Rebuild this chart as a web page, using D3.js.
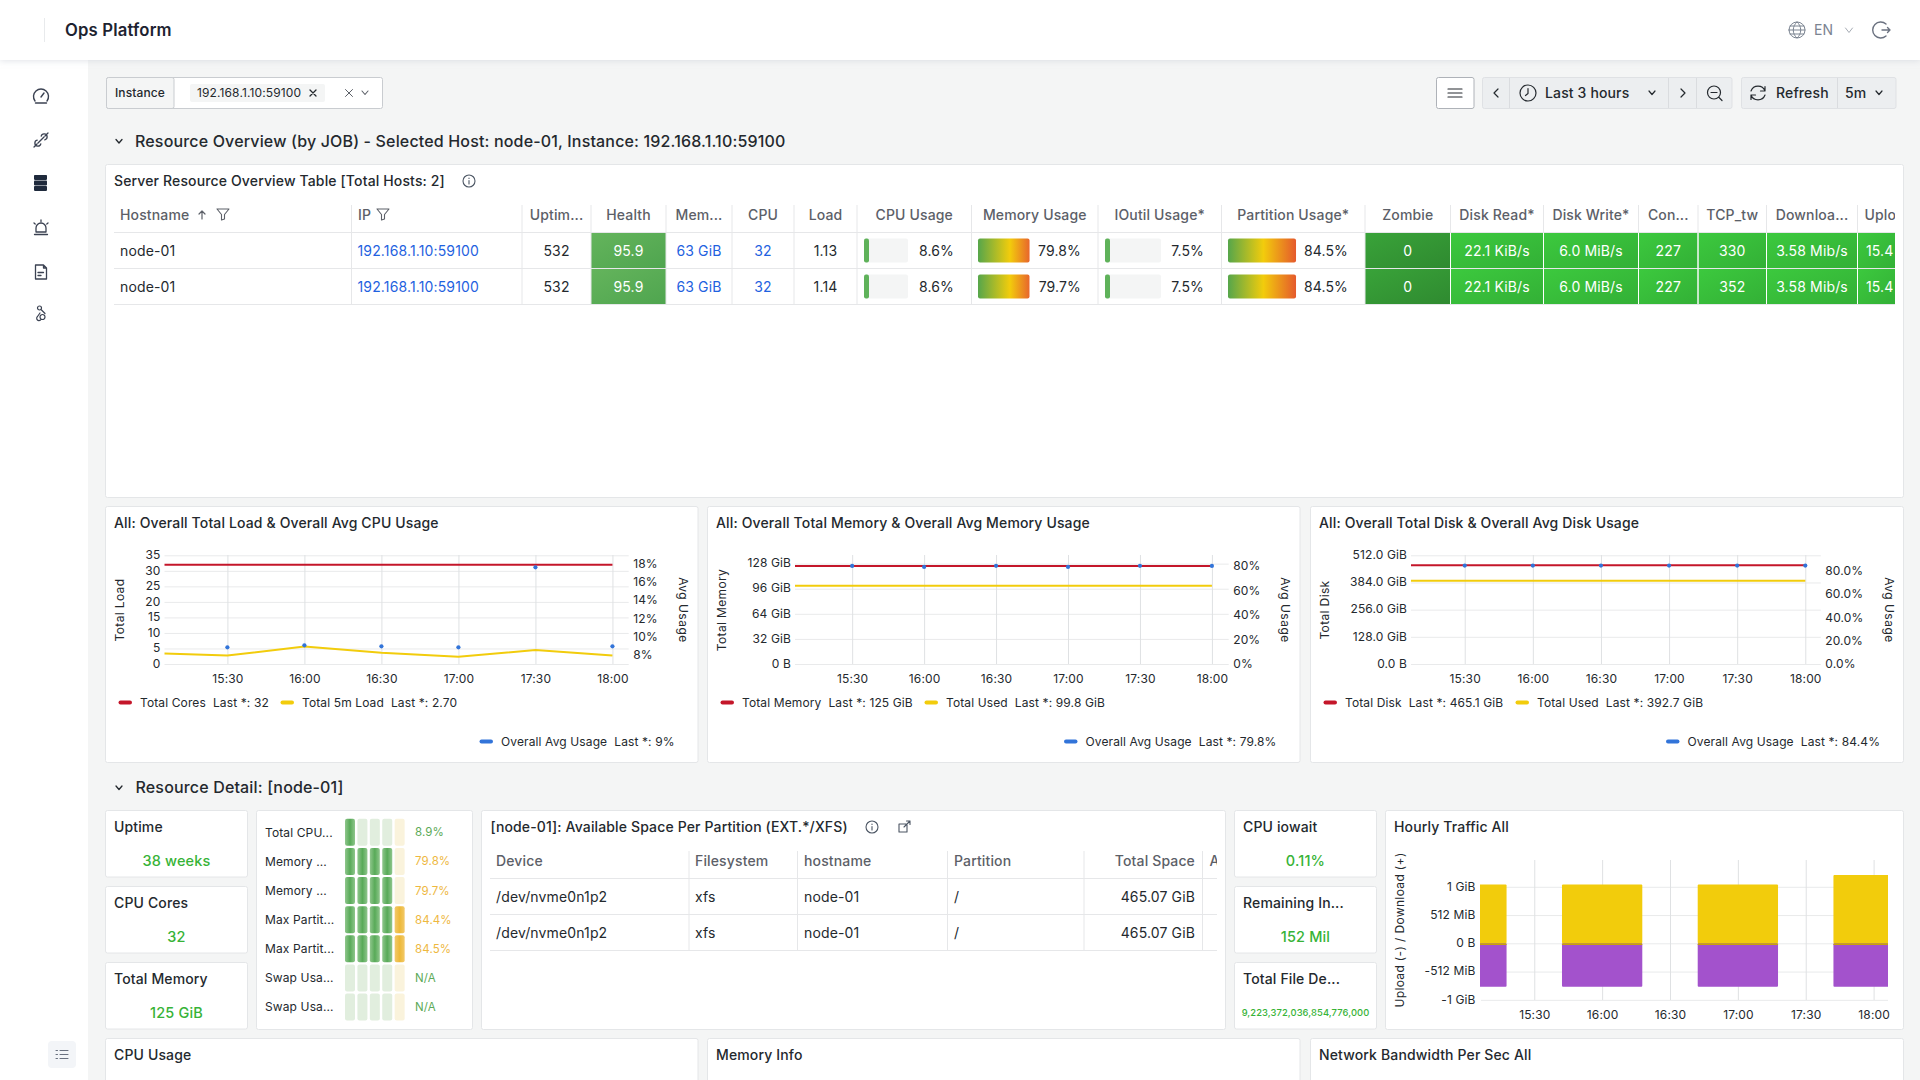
<!DOCTYPE html>
<html>
<head>
<meta charset="utf-8">
<title>Ops Platform</title>
<script src="https://cdn.jsdelivr.net/npm/d3@7"></script>
<style>
html, body { margin: 0; padding: 0; background: #f4f5f5; overflow: hidden; }
svg { display: block; font-family: Inter, "Noto Sans", sans-serif; }
text { white-space: pre; letter-spacing: 0.01em; }
.axis .domain { display: none; }
.axis text { font-family: Inter, "Noto Sans", sans-serif; font-size: 12px; fill: #24292e; }
.grid-y text { transform: translateY(-0.6px); }
.grid-y line { stroke: #e9eaeb; }
.grid-x line { stroke: #dfe1e3; }
.no-tick line { display: none; }
</style>
</head>
<body>
<div id="chart"></div>
<script>
// overview table
var overviewHeaders = ['Hostname', 'IP', 'Uptim...', 'Health', 'Mem...', 'CPU', 'Load', 'CPU Usage', 'Memory Usage', 'IOutil Usage*', 'Partition Usage*', 'Zombie', 'Disk Read*', 'Disk Write*', 'Con...', 'TCP_tw', 'Downloa...', 'Uplo'];
var hostnames = ['node-01', 'node-01'];
var instances = ['192.168.1.10:59100', '192.168.1.10:59100'];
var uptimes = ['532', '532'];
var healthScores = ['95.9', '95.9'];
var memoryTotals = ['63 GiB', '63 GiB'];
var cpuCounts = ['32', '32'];
var loads = ['1.13', '1.14'];
var cpuUsage = [8.6, 8.6];
var memoryUsage = [79.8, 79.7];
var ioUsage = [7.5, 7.5];
var partitionUsage = [84.5, 84.5];
var zombies = ['0', '0'];
var diskReads = ['22.1 KiB/s', '22.1 KiB/s'];
var diskWrites = ['6.0 MiB/s', '6.0 MiB/s'];
var connections = ['227', '227'];
var tcpTw = ['330', '352'];
var downloads = ['3.58 Mib/s', '3.58 Mib/s'];
var uploads = ['15.4', '15.4'];

// time series
var hourTicks = ['15:30', '16:00', '16:30', '17:00', '17:30', '18:00'];
var loadTimes = ['15:05:30', '15:30', '16:00', '16:30', '17:00', '17:30', '18:00'];
var totalCores = [32, 32, 32, 32, 32, 32, 32];
var total5mLoad = [3.4, 2.7, 5.6, 3.6, 2.35, 4.5, 2.7];
var avgCpuUsage = [8.84, 9.05, 8.95, 8.84, 17.56, 8.95];
var memTimes = ['15:06:10', '15:30', '16:00', '16:30', '17:00', '17:30', '18:00'];
var totalMemory = [125, 125, 125, 125, 125, 125, 125];
var usedMemory = [99.8, 99.8, 99.8, 99.8, 99.8, 99.8, 99.8];
var avgMemUsage = [79.8, 79.0, 79.9, 79.0, 79.9, 79.8];
var diskTimes = ['15:06:20', '15:30', '16:00', '16:30', '17:00', '17:30', '18:00'];
var totalDisk = [465.1, 465.1, 465.1, 465.1, 465.1, 465.1, 465.1];
var usedDisk = [392.7, 392.7, 392.7, 392.7, 392.7, 392.7, 392.7];
var avgDiskUsage = [84.4, 84.4, 84.4, 84.4, 84.4, 84.4];

// resource detail
var leftStatTitles = ['Uptime', 'CPU Cores', 'Total Memory'];
var leftStatValues = ['38 weeks', '32', '125 GiB'];
var rightStatTitles = ['CPU iowait', 'Remaining In...', 'Total File De...'];
var rightStatValues = ['0.11%', '152 Mil', '9,223,372,036,854,776,000'];
var barGaugeLabels = ['Total CPU...', 'Memory ...', 'Memory ...', 'Max Partit...', 'Max Partit...', 'Swap Usa...', 'Swap Usa...'];
var barGaugeValues = [8.9, 79.8, 79.7, 84.4, 84.5, null, null];
var partitionHeaders = ['Device', 'Filesystem', 'hostname', 'Partition', 'Total Space', 'A'];
var partitionDevices = ['/dev/nvme0n1p2', '/dev/nvme0n1p2'];
var partitionFs = ['xfs', 'xfs'];
var partitionHosts = ['node-01', 'node-01'];
var partitionMounts = ['/', '/'];
var partitionTotals = ['465.07 GiB', '465.07 GiB'];
var trafficTimes = ['15:00', '16:00', '17:00', '18:00'];
var trafficDownload = [1.04, 1.04, 1.04, 1.21];
var trafficUpload = [-0.77, -0.77, -0.77, -0.77];
var trafficOverlap = [-0.03, -0.03, -0.03, -0.03];
var trafficTicks = [-1, -0.5, 0, 0.5, 1];
var trafficTickLabels = ['-1 GiB', '-512 MiB', '0 B', '512 MiB', '1 GiB'];
var bottomPanelTitles = ['CPU Usage', 'Memory Info', 'Network Bandwidth Per Sec All'];

var RED = '#c4162a', YELLOW = '#f2cc0c', BLUE = '#3274d9', PURPLE = '#a352cc';
var INK = '#24292e', ICON = '#3b4252', MUTED = '#5c6068';
var LINE = '#e6e7e9', PANEL_LINE = '#e4e6e8';

var svg = d3.select('#chart').append('svg').attr('width', 1920).attr('height', 1080);
var defs = svg.append('defs');

function t(s) {
    var p = s.split(':');
    return new Date(2024, 0, 15, +p[0], +p[1], +(p[2] || 0));
}

function label(parent, x, y, str, o) {
    o = o || {};
    return parent.append('text')
        .attr('x', x).attr('y', y).attr('dy', '0.35em')
        .attr('text-anchor', o.anchor || 'start')
        .attr('font-size', o.size || 14)
        .attr('font-weight', o.weight || 400)
        .attr('fill', o.fill || INK)
        .text(str);
}

function panel(x0, y0, x1, y1) {
    svg.append('rect')
        .attr('x', x0).attr('y', y0)
        .attr('width', x1 - x0).attr('height', y1 - y0)
        .attr('rx', 2)
        .attr('fill', '#fff').attr('stroke', PANEL_LINE);
}

function icon(x, y, d, o) {
    o = o || {};
    return svg.append('path')
        .attr('transform', 'translate(' + x + ',' + y + ')')
        .attr('d', d)
        .attr('fill', o.fill || 'none')
        .attr('stroke', o.fill ? 'none' : (o.stroke || ICON))
        .attr('stroke-width', o.width || 1.3)
        .attr('stroke-linecap', 'round')
        .attr('stroke-linejoin', 'round');
}

function gradient(id, stops, x2, y2) {
    var g = defs.append('linearGradient').attr('id', id)
        .attr('x1', 0).attr('y1', 0).attr('x2', x2).attr('y2', y2);
    stops.forEach(function(s) {
        g.append('stop').attr('offset', s[0]).attr('stop-color', s[1]);
    });
}

gradient('cell-health', [[0, '#64b45c'], [1, '#4fa54f']], 1, 1);
gradient('cell-zombie', [[0, '#39a339'], [1, '#2f8a30']], 1, 1);
gradient('cell-ok', [[0, '#3cc93e'], [1, '#33b036']], 1, 1);
gradient('gauge-green', [[0, '#5fb25a'], [1, '#5fb25a']], 1, 0);
gradient('gauge-mem', [[0, '#56a64b'], [0.62, '#f2cc0c'], [1, '#e8662c']], 1, 0);
gradient('gauge-part', [[0, '#56a64b'], [0.52, '#f2cc0c'], [1, '#e55a2c']], 1, 0);
gradient('lit-green', [[0, '#8fc68c'], [0.5, '#58aa58'], [1, '#8fc68c']], 1, 0);
gradient('lit-amber', [[0, '#f2c96a'], [0.5, '#edb938'], [1, '#f2c96a']], 1, 0);

// page frame
var filterShadow = defs.append('filter').attr('id', 'head-shadow').attr('height', '140%');
filterShadow.append('feDropShadow').attr('dx', 0).attr('dy', 1).attr('stdDeviation', 3).attr('flood-color', '#c8ced6').attr('flood-opacity', 0.55);
svg.append('rect').attr('width', 1920).attr('height', 1080).attr('fill', '#f4f5f5');
svg.append('rect').attr('x', 0).attr('y', 60).attr('width', 88).attr('height', 1020).attr('fill', '#fff');
svg.append('rect').attr('width', 1920).attr('height', 60).attr('fill', '#fff').attr('filter', 'url(#head-shadow)');
svg.append('line').attr('x1', 44.5).attr('x2', 44.5).attr('y1', 18).attr('y2', 42).attr('stroke', '#e8eaec');
label(svg, 65, 30, 'Ops Platform', { size: 16.7, weight: 600, fill: '#1d2330' });

// header right
var GREY = '#7b8491';
icon(1797, 30, 'M-8,0a8,8 0 1,0 16,0a8,8 0 1,0 -16,0M-8,0H8M-7,-4H7M-7,4H7M0,-8C-5,-4 -5,4 0,8C5,4 5,-4 0,-8', { stroke: GREY, width: 1 });
label(svg, 1814, 30, 'EN', { size: 14, fill: GREY });
icon(1849, 30, 'M-3.5,-2L0,2.5L3.5,-2', { stroke: '#a5abb4', width: 1 });
icon(1882, 30, 'M4,-6A8,8 0 1,0 4,6M0,0H8M5.5,-2.5L8,0L5.5,2.5', { stroke: '#6b7280', width: 1.4 });

// sidebar
icon(41, 96, 'M-6,5A7.5,7.5 0 1,1 6,5M-5.5,7H5.5M0,1L3,-3', { width: 1.4 });
icon(41, 140, 'M-7,7L-4,4M4,-4L7,-7M-3.8,0.2A3,3 0 1,0 -0.2,3.8M0.2,-3.8A3,3 0 1,1 3.8,-0.2M-3,3L3,-3', { width: 1.3 });
[-5.5, 0, 5.5].forEach(function(dy) {
    svg.append('rect').attr('x', 34).attr('y', 183 + dy - 2.4).attr('width', 13).attr('height', 4.8).attr('rx', 0.8).attr('fill', '#1f2a3c');
});
icon(41, 228, 'M-5,4V0A5,5 0 0,1 5,0V4M-6.5,6.5H6.5M-5,4H5M0,-8V-6.5M-7,-5L-5.8,-4M7,-5L5.8,-4', { width: 1.3 });
icon(41, 272, 'M-5.5,-7H2.5L5.5,-4V7H-5.5ZM2.5,-7V-4H5.5M-3,0.5H2.5M-3,3.5H0', { width: 1.3 });
icon(41, 315, 'M-3.5,-7a2,2 0 1,0 4,0a2,2 0 1,0 -4,0M0,-5.5L4,-1.5M-1,2a2.5,2.5 0 1,0 5,0a2.5,2.5 0 1,0 -5,0M-1,-2L-3.5,1.5a2.2,2.2 0 0,0 3,3.5', { width: 1.2 });
svg.append('rect').attr('x', 48).attr('y', 1041).attr('width', 28).attr('height', 27).attr('rx', 4).attr('fill', '#f3f5f8');
icon(62, 1054.5, 'M-2,-4H6M-2,0H6M-2,4H6M-6,-4H-4.5M-6,0H-4.5M-6,4H-4.5', { stroke: '#6b7280', width: 1.1 });

// toolbar
svg.append('rect').attr('x', 106.5).attr('y', 77.5).attr('width', 276).attr('height', 31).attr('rx', 2).attr('fill', '#fff').attr('stroke', '#c9ccd0');
svg.append('rect').attr('x', 106.5).attr('y', 77.5).attr('width', 67.5).attr('height', 31).attr('rx', 2).attr('fill', '#f4f5f5').attr('stroke', '#c9ccd0');
label(svg, 140, 93, 'Instance', { size: 12, anchor: 'middle', weight: 500 });
svg.append('rect').attr('x', 190).attr('y', 84).attr('width', 135).attr('height', 18).attr('rx', 2).attr('fill', '#f4f5f5');
label(svg, 197, 93, '192.168.1.10:59100', { size: 12 });
icon(313, 93, 'M-3,-3L3,3M3,-3L-3,3', { stroke: INK, width: 1.3 });
icon(349, 93, 'M-3.5,-3.5L3.5,3.5M3.5,-3.5L-3.5,3.5', { stroke: '#5c6068', width: 1 });
icon(365, 92.5, 'M-3,-1.5L0,2L3,-1.5', { stroke: '#5c6068', width: 1.1 });

svg.append('rect').attr('x', 1436.5).attr('y', 77.5).attr('width', 37.5).attr('height', 31).attr('rx', 2).attr('fill', '#fff').attr('stroke', '#aeb2b8');
icon(1455, 93, 'M-7,-4H7M-7,0H7M-7,4H7', { stroke: INK, width: 1.2 });
svg.append('rect').attr('x', 1482.5).attr('y', 77.5).attr('width', 249.5).attr('height', 31).attr('rx', 2).attr('fill', '#eceef0').attr('stroke', '#dfe1e4');
svg.append('rect').attr('x', 1741.5).attr('y', 77.5).attr('width', 154.5).attr('height', 31).attr('rx', 2).attr('fill', '#eceef0').attr('stroke', '#dfe1e4');
[1509.5, 1668.5, 1696.5, 1837.5].forEach(function(x) {
    svg.append('line').attr('x1', x).attr('x2', x).attr('y1', 78).attr('y2', 108).attr('stroke', '#dadcdf');
});
icon(1496, 93, 'M2,-4L-2,0L2,4', { stroke: INK, width: 1.2 });
icon(1528, 93, 'M-8,0a8,8 0 1,0 16,0a8,8 0 1,0 -16,0M0,-4.5V0.5L-2.5,2.5', { stroke: INK, width: 1.2 });
label(svg, 1545, 93, 'Last 3 hours', { size: 14, weight: 500 });
icon(1652, 92.5, 'M-3,-1.5L0,2L3,-1.5', { stroke: INK, width: 1.2 });
icon(1683, 93, 'M-2,-4L2,0L-2,4', { stroke: INK, width: 1.2 });
icon(1714, 92.5, 'M-6.5,0a6.5,6.5 0 1,0 13,0a6.5,6.5 0 1,0 -13,0M-3,0H3M5,5L8,8', { stroke: INK, width: 1.2 });
icon(1758, 93, 'M-7,-2A7.5,7.5 0 0,1 7,-2M7,-6.5V-2H2.5M7,2A7.5,7.5 0 0,1 -7,2M-7,6.5V2H-2.5', { stroke: INK, width: 1.2 });
label(svg, 1776, 93, 'Refresh', { size: 14, weight: 500 });
label(svg, 1845, 93, '5m', { size: 14, weight: 500 });
icon(1879, 92.5, 'M-3,-1.5L0,2L3,-1.5', { stroke: INK, width: 1.2 });

// section titles
icon(119, 141, 'M-3,-1.5L0,2L3,-1.5', { stroke: INK, width: 1.3 });
label(svg, 135, 141, 'Resource Overview (by JOB) - Selected Host: node-01, Instance: 192.168.1.10:59100', { size: 16, weight: 500 });
icon(119, 787.5, 'M-3,-1.5L0,2L3,-1.5', { stroke: INK, width: 1.3 });
label(svg, 135.5, 787.5, 'Resource Detail: [node-01]', { size: 16, weight: 500 });

var INFO = 'M-6,0a6,6 0 1,0 12,0a6,6 0 1,0 -12,0M0,-0.5V3M0,-3V-2.6';
var FUNNEL = 'M-6,-5H6L1.5,0.5V5L-1.5,6V0.5Z';

// overview table
panel(105.5, 164.5, 1903.5, 497.5);
label(svg, 114, 181, 'Server Resource Overview Table [Total Hosts: 2]', { weight: 500 });
icon(469, 181, INFO, { stroke: '#4b5563', width: 1.1 });

var colEdges = [114, 351.5, 522, 591, 666, 732, 794, 857, 971.5, 1098, 1221.5, 1365, 1450.5, 1543.5, 1638.5, 1698, 1766.5, 1857.5, 1895];
var colLeft = d3.scaleOrdinal(overviewHeaders, colEdges.slice(0, -1));
var colRight = d3.scaleOrdinal(overviewHeaders, colEdges.slice(1));
var rowY = d3.scalePoint().domain([0, 1]).range([250.5, 286.5]);
var tableLayer = svg.append('g');
defs.append('clipPath').attr('id', 'table-clip').append('rect').attr('x', 114).attr('y', 200).attr('width', 1781).attr('height', 110);
tableLayer.attr('clip-path', 'url(#table-clip)');

function colMid(name) { return (colLeft(name) + colRight(name)) / 2; }

// filled cells under the grid lines
[['Health', healthScores, 'cell-health'], ['Zombie', zombies, 'cell-zombie'], ['Disk Read*', diskReads, 'cell-ok'], ['Disk Write*', diskWrites, 'cell-ok'], ['Con...', connections, 'cell-ok'], ['TCP_tw', tcpTw, 'cell-ok'], ['Downloa...', downloads, 'cell-ok'], ['Uplo', uploads, 'cell-ok']].forEach(function(c) {
    tableLayer.selectAll(null).data(c[1]).join('rect')
        .attr('x', colLeft(c[0]))
        .attr('y', function(d, i) { return rowY(i) - 17.5; })
        .attr('width', colRight(c[0]) - colLeft(c[0]))
        .attr('height', 35)
        .attr('fill', 'url(#' + c[2] + ')');
});

colEdges.slice(1, -1).forEach(function(x) {
    tableLayer.append('line').attr('x1', x).attr('x2', x).attr('y1', 205).attr('y2', 304).attr('stroke', LINE);
});
[232.5, 268.5, 304.5].forEach(function(y) {
    tableLayer.append('line').attr('x1', 114).attr('x2', 1895).attr('y1', y).attr('y2', y).attr('stroke', LINE).attr('stroke-width', 1.2);
});
// white separators over the filled cells
colEdges.slice(12, -1).forEach(function(x) {
    tableLayer.append('line').attr('x1', x).attr('x2', x).attr('y1', 233).attr('y2', 304).attr('stroke', '#fff');
});

overviewHeaders.forEach(function(h) {
    var left = h === 'Hostname' || h === 'IP' || h === 'Uplo';
    var x = h === 'Hostname' ? 120 : h === 'IP' ? 358 : h === 'Uplo' ? 1864.5 : colMid(h);
    label(tableLayer, x, 215, h, { anchor: left ? 'start' : 'middle', weight: 500, fill: MUTED });
});
icon(202, 215, 'M0,4V-4M-3,-1L0,-4L3,-1', { stroke: MUTED, width: 1.2 });
icon(223, 214, FUNNEL, { stroke: MUTED, width: 1.1 });
icon(383, 214, FUNNEL, { stroke: MUTED, width: 1.1 });

function textColumn(name, values, o) {
    o = o || {};
    values.forEach(function(v, i) {
        label(tableLayer, o.x === undefined ? colMid(name) : o.x, rowY(i) + 1, v, { anchor: o.x === undefined ? 'middle' : 'start', fill: o.fill });
    });
}
textColumn('Hostname', hostnames, { x: 120 });
textColumn('IP', instances, { x: 357.5, fill: '#1f62e0' });
textColumn('Uptim...', uptimes);
textColumn('Health', healthScores, { fill: '#fff' });
textColumn('Mem...', memoryTotals, { fill: '#1f62e0' });
textColumn('CPU', cpuCounts, { fill: '#1f62e0' });
textColumn('Load', loads);
textColumn('Zombie', zombies, { fill: '#fff' });
textColumn('Disk Read*', diskReads, { fill: '#fff' });
textColumn('Disk Write*', diskWrites, { fill: '#fff' });
textColumn('Con...', connections, { fill: '#fff' });
textColumn('TCP_tw', tcpTw, { fill: '#fff' });
textColumn('Downloa...', downloads, { fill: '#fff' });
textColumn('Uplo', uploads, { x: 1866, fill: '#fff' });

function gaugeColumn(values, x0, trackWidth, visibleTrack, fillId, valueRight) {
    var w = d3.scaleLinear().domain([0, 100]).range([0, trackWidth]);
    values.forEach(function(v, i) {
        if (visibleTrack) {
            tableLayer.append('rect').attr('x', x0).attr('y', rowY(i) - 12).attr('width', visibleTrack).attr('height', 24).attr('rx', 2).attr('fill', '#f4f5f5');
        }
        tableLayer.append('rect').attr('x', x0).attr('y', rowY(i) - 12)
            .attr('width', Math.max(5, w(v))).attr('height', 24).attr('rx', 2)
            .attr('fill', 'url(#' + fillId + ')');
        label(tableLayer, valueRight, rowY(i) + 1, v.toFixed(1) + '%', { anchor: 'end' });
    });
}
gaugeColumn(cpuUsage, 864, 44, 44, 'gauge-green', 954);
gaugeColumn(memoryUsage, 978, 64.6, 0, 'gauge-mem', 1081);
gaugeColumn(ioUsage, 1105, 56, 56, 'gauge-green', 1204);
gaugeColumn(partitionUsage, 1228, 80.5, 0, 'gauge-part', 1348);

// time series panels
function timeChart(o) {
    panel(o.panel[0], 506.5, o.panel[1], 762.5);
    label(svg, o.panel[0] + 8.5, 523, o.title, { weight: 500 });

    var top = 555, bottom = 664;
    var x = d3.scaleTime().domain([t(o.domain[0]), t(o.domain[1])]).range([o.left, o.right]);
    var y = d3.scaleLinear().domain([0, o.yMax]).range([bottom, top]);
    var y2 = d3.scaleLinear().domain([o.y2Min, o.y2Max]).range([bottom, top]);
    var g = svg.append('g');

    g.append('g').attr('class', 'axis grid-y')
        .attr('transform', 'translate(' + o.left + ',0)')
        .call(d3.axisLeft(y).tickValues(o.yTicks).tickFormat(o.yFormat).tickSizeInner(-(o.right - o.left)).tickSizeOuter(0).tickPadding(4));
    g.append('g').attr('class', 'axis grid-x')
        .attr('transform', 'translate(0,' + bottom + ')')
        .call(d3.axisBottom(x).tickValues(hourTicks.map(t)).tickFormat(d3.timeFormat('%H:%M')).tickSizeInner(-(bottom - top)).tickSizeOuter(0).tickPadding(10));
    g.append('g').attr('class', 'axis no-tick')
        .attr('transform', 'translate(' + o.right + ',0)')
        .call(d3.axisRight(y2).tickValues(o.y2Ticks).tickFormat(o.y2Format).tickSize(0).tickPadding(4.5));

    var line = d3.line().x(function(d) { return x(d[0]); }).y(function(d) { return y(d[1]); });
    g.append('path').datum(d3.zip(o.times.map(t), o.used)).attr('d', line).attr('fill', 'none').attr('stroke', YELLOW).attr('stroke-width', 2);
    g.append('path').datum(d3.zip(o.times.map(t), o.total)).attr('d', line).attr('fill', 'none').attr('stroke', RED).attr('stroke-width', 2);
    g.selectAll('circle').data(d3.zip(hourTicks.map(t), o.usage)).join('circle')
        .attr('cx', function(d) { return x(d[0]); })
        .attr('cy', function(d) { return y2(d[1]); })
        .attr('r', 2.1).attr('fill', BLUE);

    label(svg, 0, 0, o.yLabel, { size: 12, anchor: 'middle' })
        .attr('transform', 'translate(' + o.yLabelX + ',610) rotate(-90)')
        .style('letter-spacing', '0.03em');
    label(svg, 0, 0, 'Avg Usage', { size: 12, anchor: 'middle' })
        .attr('transform', 'translate(' + o.y2LabelX + ',610) rotate(90)')
        .style('letter-spacing', '0.04em');

    o.legend.forEach(function(l) {
        svg.append('rect').attr('x', l.x).attr('y', l.y - 2).attr('width', 13.5).attr('height', 4).attr('rx', 2).attr('fill', l.color);
        label(svg, l.x + 21.5, l.y, l.text, { size: 12 });
    });
}

function binaryGiB(d) { return d === 0 ? '0 B' : d + ' GiB'; }

timeChart({
    panel: [105.5, 698], title: 'All: Overall Total Load & Overall Avg CPU Usage',
    left: 164.5, right: 628.7, domain: ['15:05:30', '18:06:20'],
    yMax: 35.1, yTicks: [0, 5, 10, 15, 20, 25, 30, 35], yFormat: d3.format('d'),
    y2Min: 7.02, y2Max: 18.9, y2Ticks: [8, 10, 12, 14, 16, 18], y2Format: function(d) { return d + '%'; },
    times: loadTimes, total: totalCores, used: total5mLoad, usage: avgCpuUsage,
    yLabel: 'Total Load', yLabelX: 120, y2LabelX: 683,
    legend: [
        { x: 118.5, y: 702.5, color: RED, text: 'Total Cores  Last *: 32' },
        { x: 280.5, y: 702.5, color: YELLOW, text: 'Total 5m Load  Last *: 2.70' },
        { x: 479.5, y: 741.5, color: BLUE, text: 'Overall Avg Usage  Last *: 9%' }
    ]
});

timeChart({
    panel: [707.5, 1300], title: 'All: Overall Total Memory & Overall Avg Memory Usage',
    left: 795, right: 1228.7, domain: ['15:06:10', '18:07'],
    yMax: 139, yTicks: [0, 32, 64, 96, 128], yFormat: binaryGiB,
    y2Min: 0, y2Max: 88.7, y2Ticks: [0, 20, 40, 60, 80], y2Format: function(d) { return d + '%'; },
    times: memTimes, total: totalMemory, used: usedMemory, usage: avgMemUsage,
    yLabel: 'Total Memory', yLabelX: 721.5, y2LabelX: 1285,
    legend: [
        { x: 720.5, y: 702.5, color: RED, text: 'Total Memory  Last *: 125 GiB' },
        { x: 924.5, y: 702.5, color: YELLOW, text: 'Total Used  Last *: 99.8 GiB' },
        { x: 1064, y: 741.5, color: BLUE, text: 'Overall Avg Usage  Last *: 79.8%' }
    ]
});

timeChart({
    panel: [1310.5, 1903.5], title: 'All: Overall Total Disk & Overall Avg Disk Usage',
    left: 1411, right: 1820.8, domain: ['15:06:20', '18:06:50'],
    yMax: 513.4, yTicks: [0, 128, 256, 384, 512], yFormat: function(d) { return d === 0 ? '0.0 B' : d.toFixed(1) + ' GiB'; },
    y2Min: 0, y2Max: 93.5, y2Ticks: [0, 20, 40, 60, 80], y2Format: function(d) { return d.toFixed(1) + '%'; },
    times: diskTimes, total: totalDisk, used: usedDisk, usage: avgDiskUsage,
    yLabel: 'Total Disk', yLabelX: 1325, y2LabelX: 1889,
    legend: [
        { x: 1323.5, y: 702.5, color: RED, text: 'Total Disk  Last *: 465.1 GiB' },
        { x: 1515.5, y: 702.5, color: YELLOW, text: 'Total Used  Last *: 392.7 GiB' },
        { x: 1666, y: 741.5, color: BLUE, text: 'Overall Avg Usage  Last *: 84.4%' }
    ]
});

// stat panels
var STAT_GREEN = '#37b337';
var statTops = [810.5, 886.5, 962.5];
function statColumn(x0, x1, titles, values) {
    titles.forEach(function(title, i) {
        panel(x0, statTops[i], x1, statTops[i] + 66.5);
        label(svg, x0 + 8.5, statTops[i] + 16.5, title, { weight: 500 });
        var small = values[i].length > 12;
        label(svg, (x0 + x1) / 2, statTops[i] + 50.5, values[i], { anchor: 'middle', size: small ? 9.4 : 14.5, weight: 500, fill: STAT_GREEN });
    });
}
statColumn(105.5, 247.5, leftStatTitles, leftStatValues);
statColumn(1234.5, 1376.5, rightStatTitles, rightStatValues);

// bar gauge panel
panel(256.5, 810.5, 472.5, 1029.5);
var gaugeRows = d3.scalePoint().domain(d3.range(barGaugeLabels.length)).range([832.3, 1007]);
var gaugeCells = d3.scaleBand().domain(d3.range(5)).range([345, 405]).paddingInner(0.167).paddingOuter(0).align(0);
barGaugeLabels.forEach(function(l, i) {
    var v = barGaugeValues[i];
    var lit = v === null ? 0 : Math.ceil(v / 20);
    label(svg, 265, gaugeRows(i), l, { size: 12 });
    svg.append('g').selectAll('rect').data(gaugeCells.domain()).join('rect')
        .attr('x', function(c) { return gaugeCells(c); })
        .attr('y', gaugeRows(i) - 13.5)
        .attr('width', 10).attr('height', 27).attr('rx', 2)
        .attr('fill', function(c) {
            if (c === 4) return c < lit ? 'url(#lit-amber)' : '#faf3dc';
            return c < lit ? 'url(#lit-green)' : '#e1eede';
        });
    var amber = v !== null && v >= 75;
    label(svg, 415, gaugeRows(i), v === null ? 'N/A' : v.toFixed(1) + '%', { size: 11.5, fill: amber ? '#eeb83f' : '#5caa58' });
});

// partition table
panel(481.5, 810.5, 1225.5, 1029.5);
label(svg, 490.5, 827, '[node-01]: Available Space Per Partition (EXT.*/XFS)', { weight: 500 });
icon(872, 827, INFO, { stroke: '#4b5563', width: 1.1 });
icon(904, 827, 'M3,-2V5H-5V-3H2M0,0L6,-6M2.5,-6H6V-2.5', { stroke: '#4b5563', width: 1.1 });

var partitionEdges = [490, 689, 797.5, 947.5, 1084, 1202.5];
partitionEdges.slice(1).forEach(function(x) {
    svg.append('line').attr('x1', x).attr('x2', x).attr('y1', 851).attr('y2', 951).attr('stroke', LINE);
});
[878.5, 914.5, 950.5].forEach(function(y) {
    svg.append('line').attr('x1', 490).attr('x2', 1217).attr('y1', y).attr('y2', y).attr('stroke', LINE).attr('stroke-width', 1.2);
});
var partX = d3.scaleOrdinal(partitionHeaders, [496, 695, 804, 954, 1195, 1209.5]);
defs.append('clipPath').attr('id', 'part-clip').append('rect').attr('x', 490).attr('y', 845).attr('width', 727).attr('height', 110);
var partLayer = svg.append('g').attr('clip-path', 'url(#part-clip)');
partitionHeaders.forEach(function(h) {
    label(partLayer, partX(h), 861, h, { anchor: h === 'Total Space' ? 'end' : 'start', weight: 500, fill: MUTED });
});
var partRowY = d3.scalePoint().domain([0, 1]).range([897, 933]);
partitionDevices.forEach(function(d, i) {
    label(partLayer, partX('Device'), partRowY(i), d);
    label(partLayer, partX('Filesystem'), partRowY(i), partitionFs[i]);
    label(partLayer, partX('hostname'), partRowY(i), partitionHosts[i]);
    label(partLayer, partX('Partition'), partRowY(i), partitionMounts[i]);
    label(partLayer, partX('Total Space'), partRowY(i), partitionTotals[i], { anchor: 'end' });
});

// hourly traffic
panel(1385.5, 810.5, 1903.5, 1029.5);
label(svg, 1394, 827, 'Hourly Traffic All', { weight: 500 });
var trafficX = d3.scaleTime().domain([t('15:06:27'), t('18:06:22')]).range([1481, 1888]);
var trafficY = d3.scaleLinear().domain([-1.003, 1.474]).range([1000, 860]);
var trafficG = svg.append('g');
trafficG.append('g').attr('class', 'axis grid-y')
    .attr('transform', 'translate(1481,0)')
    .call(d3.axisLeft(trafficY).tickValues(trafficTicks).tickFormat(function(d, i) { return trafficTickLabels[i]; }).tickSizeInner(-407).tickSizeOuter(0).tickPadding(5.5));
trafficG.append('g').attr('class', 'axis grid-x')
    .attr('transform', 'translate(0,1000)')
    .call(d3.axisBottom(trafficX).tickValues(hourTicks.map(t)).tickFormat(d3.timeFormat('%H:%M')).tickSizeInner(-140).tickSizeOuter(0).tickPadding(10.5));
defs.append('clipPath').attr('id', 'traffic-clip').append('rect').attr('x', 1480).attr('y', 855).attr('width', 408).attr('height', 150);
var trafficBars = svg.append('g').attr('clip-path', 'url(#traffic-clip)');
var halfBar = 17.75 * 60 * 1000;
function barX(s) { return trafficX(new Date(t(s).getTime() - halfBar)); }
function barW(s) { return trafficX(new Date(t(s).getTime() + halfBar)) - barX(s); }
[[trafficDownload, YELLOW], [trafficUpload, PURPLE], [trafficOverlap, '#c9a208']].forEach(function(series) {
    trafficBars.append('g').selectAll('rect').data(trafficTimes).join('rect')
        .attr('x', barX).attr('width', barW).attr('rx', 1)
        .attr('y', function(d, i) { return trafficY(Math.max(series[0][i], 0)); })
        .attr('height', function(d, i) { return Math.abs(trafficY(series[0][i]) - trafficY(0)); })
        .attr('fill', series[1]);
});
label(svg, 0, 0, 'Upload (-) / Download (+)', { size: 12, anchor: 'middle' })
    .attr('transform', 'translate(1399.5,930) rotate(-90)')
    .style('letter-spacing', '0.03em');

// bottom row panels, cut off by the window
[[105.5, 698], [707.5, 1300], [1310.5, 1903.5]].forEach(function(p, i) {
    panel(p[0], 1038.5, p[1], 1100);
    label(svg, p[0] + 8.5, 1055, bottomPanelTitles[i], { weight: 500 });
});
</script>
</body>
</html>
